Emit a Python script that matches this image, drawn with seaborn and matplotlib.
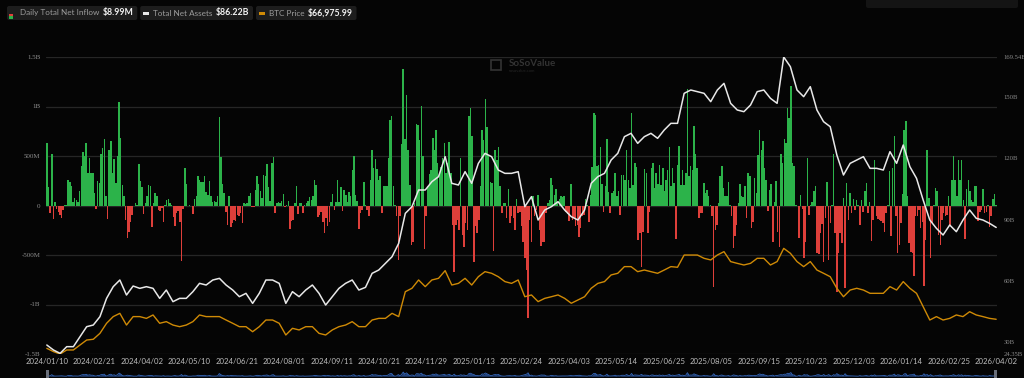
import numpy as np
import pandas as pd
import matplotlib
matplotlib.use("Agg")
import matplotlib.pyplot as plt
import seaborn as sns
from matplotlib.patches import FancyBboxPatch, Rectangle
from matplotlib.transforms import IdentityTransform

# --- Data ---
# daily total net inflow, million USD, one value per trading day
daily_inflow_m = [
    630, 190, -78, 520, -135, 40, -40, -70, -95, -125, -50, 5, 3, 260, 240, 200, 40, 80, 57, 40,
    148, 404, 540, 495, 630, 333, 478, 327, 333, 125, -34, 250, 226, 520, 576, 674, 91, -138, 563, 654,
    327, 472, 226, 502, 1045, 684, 209, 91, -145, -330, -263, -168, -94, -10, 30, 5, 418, 243, 185, -84,
    24, 101, 209, 202, -222, 24, 125, 91, -44, -57, -27, -168, 3, 57, 64, 24, 3, -118, -212, -78,
    -57, -162, -563, -34, 377, 216, -5, 5, -10, -84, 64, 101, 303, 260, 233, 240,
    303, 135, 108, 250, 91, 40, 47, 40, 101, 890, 489, 219, 125, -61, -202, 101, -222, -179, -145, -152,
    -94, -111, -78, -172, 24, 17, 24, 91, 125, -17, -20, 152, 293, 216, 148, 74, 307, 303, 421, 185,
    47, 428, 489, -78, 30, 40, 30, 50, 118, -17, 3, 47, -236, -152, -145, 24, 192, -84, 30, 30,
    -78, 3, 24, 50, 81, 57, 101, 253, 209, -121, -101, -61, -162, -280, -128, -212, -168, 40, 115, -44,
    34, 260, 40, 185, -54, 158, 108, 40, 135, 101, 360, 495, 108, 50, -239, -78,
    -44, 233, 3, -44, -111, 253, 563, 377, 468, 367, 260, 293, -78, 199, 192, 199, 478, 866, 900, 192,
    3, -111, -549, -111, 623, 1382, 671, 1119, 563, 212, -398, -364, 24, 826, 816, 664, 1008, 495, -441, -111,
    192, 317, 354, 681, 563, 765, 428, 327, 388, 478, 630, 333, 428, 637, 327, -195, -674, -195, -145, -246,
    478, -297, -415, -179, -246, 900, 984, 698, -573, -212, -280, -145, 192, 765, 657, 1075, 792, 495, 233, 226,
    -458, 563, 462, 590, 202, -78, 24, 24, -128, 169, -179, -111, -128, -246, 64, -78, -61, -212,
    -364, -532, -650, -1139, -145, -364, 101, -111, -44, 108, -246, -408, -364, -371, -78, 30, 57, 276, 209, 108,
    165, 40, 67, 91, 84, 91, -61, -84, -155, 216, -145, -128, -212, -195, -320, -229, -111, -94, 64, 7,
    -162, 108, 388, 933, 910, 394, 411, 590, 216, -61, 199, 674, 135, -78, 125, 142, 327, 91, 142, -94,
    310, 310, 260, 563, 260, 175, 933, 209, 428, 388, -347, -273, -617, -270, 371, 327, -280, -61, 377, 428,
    175, 327, 219, 411, 209, 377, 142, 260, 360, 590, 192, 377, 226, -337, 411, 603, 209, 360,
    209, 327, 1176, 293, 404, 360, 799, 519, 377, -128, -78, -78, 226, 131, 158, 91, 3, -111, -819, -246,
    -195, 24, 293, 401, 175, 91, 91, 233, 3, -111, -431, -313, -202, 30, 219, 91, 84, 192, -128, 327,
    303, -229, -162, 276, 125, 512, 758, 563, 647, 377, 260, -51, 158, 219, -364, 40, 243, -263, -415, 522,
    428, 671, 630, 984, 883, 1210, 428, 401, 3, -10, -324, 108, -37, -532, -364, 478, -101, 3, 40, 142,
    199, -482, -489, -280, -185, -573, -128, 236, -549, -179, 3, 522, -280, -869, -482, -280,
    -374, 74, -836, 226, -145, 125, -78, 67, -44, 57, 3, -195, 57, -61, 148, 226, -71, 40, -354, -145,
    462, -111, -138, -145, -152, -179, -270, -78, 3, 344, -313, 377, 698, -111, -482, -398, -179, 118, 765, 849,
    101, -381, -465, -482, -708, -111, -104, -44, -229, -162, -809, -347, 563, 74, -532, -179, 7, 175, 142, -297,
    -398, -145, -71, -111, -94, 91, -202, 260, 502, 253, 91, 462, 260, 462, 57, -340, 165, 253, 142, 57,
    40, 192, 199, -155, -61, -44, 165, -78, -67, 3, -222, -111, 67, 115, 8.99,
]

# total net assets, billion USD (sampled every ~4 trading days)
total_assets_b = [
    28.74, 26.30, 24.67, 27.93, 27.93, 32.81, 37.70, 38.52, 42.59, 51.55, 57.26, 60.52,
    53.18, 57.58, 56.44, 57.26, 56.44, 51.55, 55.63, 49.93, 51.55, 51.55, 54.81, 58.89,
    58.07, 60.52, 61.33, 58.07, 55.63, 52.37, 54.00, 49.11, 54.00, 60.52, 60.52, 58.89,
    49.11, 54.81, 52.37, 55.63, 58.07, 54.00, 48.30, 52.37, 56.44, 58.89, 60.52, 55.63,
    56.93, 63.78, 65.41, 68.67, 71.92, 78.44, 93.11, 96.37, 104.52, 104.52, 108.59, 111.04,
    120.81, 107.78, 106.96, 113.48, 107.78, 117.55, 122.44, 120.81, 114.29, 112.66, 112.66, 113.48,
    96.37, 101.26, 89.85, 94.74, 96.37, 98.81, 94.74, 91.48, 89.85, 94.74, 107.78, 111.04,
    112.66, 119.18, 122.44, 130.59, 132.22, 127.33, 130.59, 132.22, 129.78, 133.85, 137.11, 137.11,
    151.78, 153.40, 152.59, 151.78, 147.70, 153.40, 156.66, 146.89, 143.63, 142.81, 146.07, 152.59,
    153.40, 149.33, 146.89, 169.54, 164.81, 153.40, 150.15, 155.03, 143.63, 137.92, 135.48, 121.63,
    111.85, 117.55, 119.18, 120.81, 115.11, 115.11, 114.29, 123.26, 117.55, 126.52, 115.92, 110.22,
    99.63, 89.85, 85.78, 82.52, 87.41, 84.15, 89.85, 94.74, 90.67, 89.85, 88.22, 86.22,
]

# BTC price, thousand USD (same sampling)
btc_price_k = [
    43.9, 41.3, 39.4, 42.6, 42.6, 46.6, 50.5, 51.1, 55.8, 63.8, 69.1, 71.7,
    62.4, 69.1, 69.1, 67.7, 70.4, 63.8, 65.1, 62.4, 61.1, 62.4, 65.1, 70.4,
    69.1, 69.1, 69.1, 66.4, 63.8, 61.1, 61.1, 57.1, 61.1, 66.4, 66.4, 63.8,
    54.5, 59.8, 58.5, 61.1, 61.1, 55.8, 54.5, 58.5, 61.1, 62.4, 65.1, 61.1,
    61.1, 66.4, 67.7, 67.7, 71.7, 69.1, 88.9, 91.6, 98.2, 92.9, 98.2, 99.5,
    105.6, 94.2, 95.5, 99.5, 94.2, 100.8, 104.8, 103.5, 100.8, 96.9, 95.5, 98.2,
    84.9, 86.3, 81.0, 83.6, 84.9, 86.3, 83.6, 79.7, 82.3, 84.9, 91.6, 95.5,
    96.9, 102.2, 103.5, 108.8, 108.8, 104.8, 106.1, 104.8, 103.5, 106.1, 108.8, 108.3,
    118.0, 118.0, 118.0, 115.4, 114.1, 118.0, 120.7, 112.8, 111.4, 110.1, 111.4, 115.4,
    115.4, 110.1, 112.8, 123.3, 119.4, 112.8, 108.8, 112.8, 106.1, 103.5, 100.8, 91.6,
    84.9, 90.2, 91.6, 90.2, 87.6, 87.6, 87.6, 92.9, 90.2, 96.9, 91.6, 87.6,
    77.0, 66.4, 69.1, 66.4, 67.7, 70.4, 69.1, 73.0, 70.4, 69.1, 67.7, 66.98,
]

date_labels = [
    "2024/01/10", "2024/02/21", "2024/04/02", "2024/05/10", "2024/06/21", "2024/08/01",
    "2024/09/11", "2024/10/21", "2024/11/29", "2025/01/13", "2025/02/24", "2025/04/03",
    "2025/05/14", "2025/06/25", "2025/08/05", "2025/09/15", "2025/10/23", "2025/12/03",
    "2026/01/14", "2026/02/25", "2026/04/02",
]
left_ticks = [-1500, -1000, -500, 0, 500, 1000, 1500]
left_labels = ["-1.5B", "-1B", "-500M", "0", "500M", "1B", "1.5B"]
right_ticks = [24.35, 30, 60, 90, 120, 150, 169.54]
right_labels = ["24.35B", "30B", "60B", "90B", "120B", "150B", "169.54B"]

# --- Style ---
W, H = 1024, 378
BG = "#050505"
GREEN = "#2cb34a"
RED = "#de3f3a"
WHITE = "#e8e8e8"
ORANGE = "#cf8a06"
GRID = "#262626"
TICK = "#8c8c8c"

sns.set_theme(style="dark")
plt.rcParams["font.family"] = ["Lato", "DejaVu Sans"]

fig = plt.figure(figsize=(W / 100, H / 100), dpi=100, facecolor=BG)
ax = fig.add_axes([46 / W, 24 / H, 951 / W, 297 / H])
ax.set_facecolor(BG)

n = len(daily_inflow_m)
df = pd.DataFrame({"idx": np.arange(n), "flow": daily_inflow_m})
df["sign"] = np.where(df["flow"] >= 0, "in", "out")

sns.barplot(data=df, x="idx", y="flow", hue="sign", palette={"in": GREEN, "out": RED},
            native_scale=True, dodge=False, width=0.92, saturation=1, legend=False,
            errorbar=None, linewidth=0, ax=ax)

ax.set_xlim(-0.5, n - 0.5)
ax.set_ylim(-1500, 1500)
ax.set_yticks(left_ticks)
ax.set_yticklabels(left_labels, family="Liberation Serif", fontsize=5, color=TICK)
ax.set_xticks(np.linspace(0, n - 1, len(date_labels)))
ax.set_xticklabels(date_labels, fontsize=5.6, color="#bcbcbc")
ax.tick_params(axis="both", length=0)
ax.tick_params(axis="y", pad=4)
ax.tick_params(axis="x", pad=3)
ax.grid(axis="y", color=GRID, linewidth=0.9)
ax.grid(axis="x", visible=False)
ax.set_xlabel("")
ax.set_ylabel("")
for s in ax.spines.values():
    s.set_visible(False)

# BTC price on its own hidden scale
ax3 = ax.twinx()
line_pos = np.linspace(0, n - 1, len(btc_price_k))
sns.lineplot(x=line_pos, y=btc_price_k, color=ORANGE, linewidth=1.0, ax=ax3)
ax3.set_ylim(39.4, 275.3)
ax3.axis("off")

# total net assets on the right axis
ax2 = ax.twinx()
sns.lineplot(x=np.linspace(0, n - 1, len(total_assets_b)), y=total_assets_b,
             color=WHITE, linewidth=1.1, ax=ax2)
ax2.set_ylim(24.35, 169.54)
ax2.set_yticks(right_ticks)
ax2.set_yticklabels(right_labels, family="Liberation Serif", fontsize=4.8, color=TICK)
ax2.tick_params(axis="y", length=0, pad=4.5)
ax2.grid(False)
ax2.set_ylabel("")
for s in ax2.spines.values():
    s.set_visible(False)
ax2.set_xlim(-0.5, n - 0.5)
ax3.set_xlim(-0.5, n - 0.5)

# navigator strip at the bottom
nav = fig.add_axes([46 / W, 0, 951 / W, 9 / H])
nav.set_facecolor("#18294a")
nav_y = np.abs(df["flow"].to_numpy())
nav.fill_between(df["idx"], 0, nav_y, color="#24457f", linewidth=0)
sns.lineplot(x=df["idx"], y=nav_y, color="#3566b8", linewidth=0.6, ax=nav)
nav.set_xlim(-0.5, n - 0.5)
nav.set_ylim(-600, 2400)
nav.axis("off")
fig.patches.append(Rectangle((46, 0), 3, 8, transform=IdentityTransform(),
                             fc="#6a6f7a", ec="none"))
fig.patches.append(Rectangle((994, 0), 3, 8, transform=IdentityTransform(),
                             fc="#6a6f7a", ec="none"))

# watermark
fig.text(509 / W, 1 - 64 / H, "SoSoValue", color="#333333", fontsize=7, weight="bold",
         ha="left", va="center")
fig.text(509 / W, 1 - 71 / H, "sosovalue.com", color="#262626", fontsize=3,
         ha="left", va="center")
fig.patches.append(Rectangle((491, H - 70), 10, 10, transform=IdentityTransform(),
                             fc="none", ec="#333333", lw=1.2))

# header chips
renderer = fig.canvas.get_renderer()
chip_y = 13


def chip(x0, label, value):
    t1 = fig.text((x0 + 13) / W, 1 - chip_y / H, label, color="#9c9c9c", fontsize=5.9,
                  va="center", ha="left")
    bb = t1.get_window_extent(renderer)
    t2 = fig.text((bb.x1 + 3) / W, 1 - chip_y / H, value, color="#f2f2f2", fontsize=6.3,
                  weight="bold", va="center", ha="left")
    bb2 = t2.get_window_extent(renderer)
    x1 = bb2.x1 + 4
    fig.patches.append(FancyBboxPatch((x0, H - 20), x1 - x0, 14, transform=IdentityTransform(),
                                      boxstyle="round,pad=0,rounding_size=2",
                                      fc="#1d1d1d", ec="none", zorder=0))
    return x1


x_next = chip(7, "Daily Total Net Inflow", "$8.99M")
fig.patches.append(Rectangle((9, H - 16), 4, 2.5, transform=IdentityTransform(), fc=RED, ec="none"))
fig.patches.append(Rectangle((9, H - 18.5), 4, 2.5, transform=IdentityTransform(), fc=GREEN, ec="none"))
x2 = x_next + 3
x_next = chip(x2, "Total Net Assets", "$86.22B")
fig.patches.append(Rectangle((x2 + 3, H - 14.5), 6, 2.5, transform=IdentityTransform(), fc=WHITE, ec="none"))
x3 = x_next + 3
x_next = chip(x3, "BTC Price", "$66,975.99")
fig.patches.append(Rectangle((x3 + 3, H - 14.5), 6, 2.5, transform=IdentityTransform(), fc=ORANGE, ec="none"))

fig.patches.append(FancyBboxPatch((866, H - 8), 152, 10, transform=IdentityTransform(),
                                  boxstyle="round,pad=0,rounding_size=2",
                                  fc="#141414", ec="none", zorder=0))

fig.savefig("out.png", dpi=100, facecolor=BG)
